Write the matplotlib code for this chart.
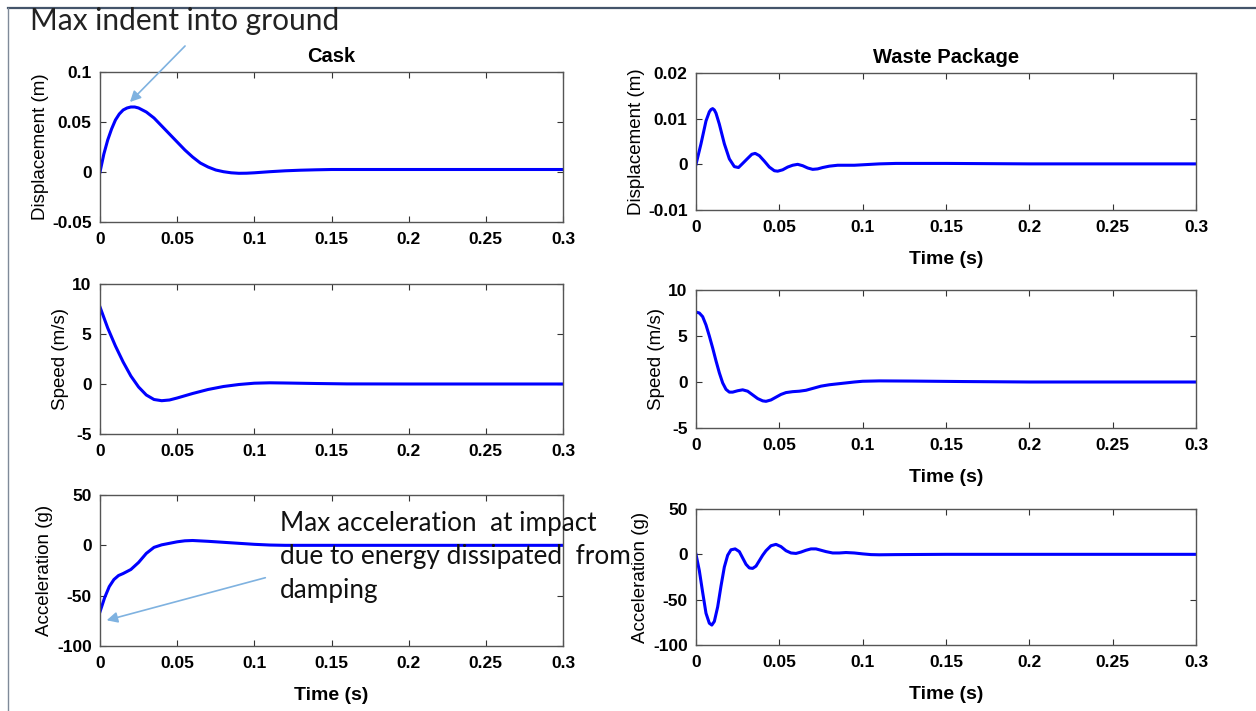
import matplotlib.pyplot as plt
from matplotlib.lines import Line2D

# time bases and values
cask_disp_t = [0, 0.0025, 0.005, 0.0075, 0.01, 0.0125, 0.015, 0.0175, 0.02, 0.0225, 0.025, 0.03,
               0.035, 0.04, 0.045, 0.05, 0.055, 0.06, 0.065, 0.07, 0.075, 0.08, 0.085, 0.09, 0.095,
               0.1, 0.11, 0.12, 0.13, 0.14, 0.15, 0.2, 0.25, 0.3]
cask_disp = [0, 0.018, 0.032, 0.043, 0.052, 0.058, 0.062, 0.064, 0.065, 0.065, 0.064, 0.060,
             0.054, 0.046, 0.038, 0.030, 0.022, 0.015, 0.009, 0.005, 0.002, 0.0003, -0.0008,
             -0.0013, -0.0012, -0.0008, 0.0003, 0.0012, 0.0018, 0.0022, 0.0025, 0.0025, 0.0025,
             0.0025]

cask_speed_t = [0, 0.005, 0.01, 0.015, 0.02, 0.025, 0.03, 0.035, 0.04, 0.045, 0.05, 0.06, 0.07,
                0.08, 0.09, 0.1, 0.11, 0.12, 0.14, 0.16, 0.2, 0.25, 0.3]
cask_speed = [7.7, 5.6, 3.8, 2.2, 0.8, -0.3, -1.1, -1.55, -1.67, -1.6, -1.4, -0.95, -0.55,
              -0.25, -0.05, 0.08, 0.12, 0.1, 0.05, 0.01, 0, 0, 0]

cask_acc_t = [0, 0.003, 0.006, 0.009, 0.012, 0.015, 0.02, 0.025, 0.03, 0.035, 0.04, 0.045, 0.05,
              0.055, 0.06, 0.07, 0.08, 0.09, 0.1, 0.11, 0.12, 0.15, 0.2, 0.3]
cask_acc = [-66, -52, -41, -34, -30, -28, -24, -17, -8, -2, 0.5, 2, 3.5,
            4.5, 4.8, 4, 3, 2, 1, 0.3, 0, 0, 0, 0]

wp_disp_t = [0, 0.003, 0.006, 0.008, 0.009, 0.010, 0.011, 0.012, 0.014, 0.017, 0.020, 0.023,
             0.0255, 0.028, 0.031, 0.0335, 0.0355, 0.038, 0.041, 0.044, 0.047, 0.049, 0.052,
             0.055, 0.058, 0.061, 0.064, 0.067, 0.070, 0.073, 0.076, 0.080, 0.085, 0.090, 0.095,
             0.10, 0.11, 0.12, 0.15, 0.2, 0.3]
wp_disp = [0, 0.0045, 0.0095, 0.0115, 0.0120, 0.0122, 0.0119, 0.0112, 0.0088, 0.0045, 0.0012,
           -0.0005, -0.0007, 0.0002, 0.0013, 0.0022, 0.0024, 0.0019, 0.0007, -0.0006, -0.0014,
           -0.0015, -0.0012, -0.0006, -0.0002, 0.0, -0.0003, -0.0008, -0.0011, -0.0010, -0.0007,
           -0.0004, -0.0002, -0.0002, -0.0002, -0.0001, 0.0001, 0.0002, 0.0002, 0.0001, 0.0001]

wp_speed_t = [0, 0.002, 0.004, 0.006, 0.008, 0.010, 0.012, 0.014, 0.016, 0.018, 0.020, 0.022,
              0.025, 0.028, 0.031, 0.034, 0.037, 0.040, 0.042, 0.045, 0.048, 0.051, 0.054, 0.058,
              0.062, 0.066, 0.070, 0.075, 0.080, 0.085, 0.090, 0.095, 0.10, 0.11, 0.13, 0.16,
              0.2, 0.3]
wp_speed = [7.6, 7.5, 7.1, 6.2, 5.0, 3.7, 2.3, 1.0, -0.1, -0.8, -1.1, -1.1, -0.95, -0.85, -1.0,
            -1.4, -1.8, -2.05, -2.1, -1.95, -1.65, -1.35, -1.15, -1.05, -1.0, -0.9, -0.7, -0.45,
            -0.3, -0.2, -0.1, 0.0, 0.08, 0.12, 0.1, 0.05, 0.0, 0.0]

wp_acc_t = [0, 0.002, 0.004, 0.006, 0.008, 0.0095, 0.011, 0.013, 0.015, 0.017, 0.019, 0.021,
            0.0235, 0.026, 0.028, 0.030, 0.032, 0.034, 0.036, 0.038, 0.040, 0.042, 0.045, 0.048,
            0.051, 0.054, 0.057, 0.060, 0.063, 0.066, 0.069, 0.072, 0.075, 0.078, 0.082, 0.086,
            0.090, 0.095, 0.10, 0.105, 0.11, 0.12, 0.15, 0.2, 0.3]
wp_acc = [0, -18, -42, -65, -76, -78, -74, -58, -35, -14, -1, 5, 6, 3, -4, -11, -15, -15.5, -13,
          -7, -1, 4, 9.5, 11, 8.5, 4, 1.5, 1, 2.5, 4.5, 6, 6, 4.5, 3, 1.5, 1.5, 2, 1.5, 0.5,
          -0.3, -0.5, -0.3, 0, 0, 0]

x_ticks = [0, 0.05, 0.1, 0.15, 0.2, 0.25, 0.3]
x_tick_labels = ["0", "0.05", "0.1", "0.15", "0.2", "0.25", "0.3"]

plt.rcParams["font.family"] = ["Liberation Sans", "DejaVu Sans"]

W, H = 1256, 711
fig = plt.figure(figsize=(W / 100, H / 100), dpi=100)


def px_axes(left, top, right, bottom):
    return fig.add_axes([left / W, 1 - bottom / H, (right - left) / W, (bottom - top) / H])


def style(ax, yticks, ylabel, xlabel=True):
    ax.set_xlim(0, 0.3)
    ax.set_ylim(yticks[0], yticks[-1])
    ax.set_xticks(x_ticks)
    ax.set_xticklabels(x_tick_labels, fontweight="bold", fontsize=12.5)
    ax.set_yticks(yticks)
    ax.set_yticklabels(["%g" % v for v in yticks], fontweight="bold", fontsize=12.5)
    ax.tick_params(axis="x", pad=7.5)
    ax.tick_params(axis="y", pad=6)
    ax.tick_params(direction="in", length=4, width=0.8, top=True, right=True,
                   colors="#333333", labelcolor="black")
    for sp in ax.spines.values():
        sp.set_color("#555555")
        sp.set_linewidth(1.0)
    ax.set_ylabel(ylabel, fontsize=13.5, labelpad=2.5)
    if xlabel:
        ax.set_xlabel("Time (s)", fontsize=14, fontweight="bold", labelpad=11.5)


panels = [
    ((100, 72, 563, 222), cask_disp_t, cask_disp, [-0.05, 0, 0.05, 0.1], "Displacement (m)", False, "Cask"),
    ((100, 284, 563, 434), cask_speed_t, cask_speed, [-5, 0, 5, 10], "Speed (m/s)", False, None),
    ((100, 495, 563, 646), cask_acc_t, cask_acc, [-100, -50, 0, 50], "Acceleration (g)", True, None),
    ((696, 73, 1196, 210), wp_disp_t, wp_disp, [-0.01, 0, 0.01, 0.02], "Displacement (m)", True, "Waste Package"),
    ((696, 290, 1196, 428), wp_speed_t, wp_speed, [-5, 0, 5, 10], "Speed (m/s)", True, None),
    ((696, 509, 1196, 645), wp_acc_t, wp_acc, [-100, -50, 0, 50], "Acceleration (g)", True, None),
]

for box, t, y, yt, ylab, has_x, title in panels:
    ax = px_axes(*box)
    ax.plot(t, y, color="#0000ff", lw=2.2)
    style(ax, yt, ylab, has_x)
    if title:
        ax.set_title(title, fontsize=14.5, fontweight="bold", pad=7)

# slide frame lines
fig.add_artist(Line2D([8 / W, 1.0], [1 - 8 / H, 1 - 8 / H], color="#44546a", lw=1.6))
fig.add_artist(Line2D([8 / W, 8 / W], [0, 1 - 8 / H], color="#7f8a99", lw=1.0))

# callouts
arrow_col = "#7fb2e0"
fig.text(30 / W, 1 - 30 / H, "Max indent into ground", fontsize=21.5, family=["Lato", "DejaVu Sans"],
         color="#222222", va="baseline")
fig.add_artist(plt.Annotation("", xy=(128 / W, 1 - 104 / H), xycoords="figure fraction",
                              xytext=(187 / W, 1 - 44 / H), textcoords="figure fraction",
                              arrowprops=dict(arrowstyle="-|>", color=arrow_col, lw=1.2,
                                              mutation_scale=16)))
fig.text(280 / W, 1 - 511 / H,
         "Max acceleration  at impact\ndue to energy dissipated  from\ndamping",
         fontsize=18.8, family=["Lato", "DejaVu Sans"], color="#111111", va="top", linespacing=1.42)
fig.add_artist(plt.Annotation("", xy=(104 / W, 1 - 621 / H), xycoords="figure fraction",
                              xytext=(268 / W, 1 - 577 / H), textcoords="figure fraction",
                              arrowprops=dict(arrowstyle="-|>", color=arrow_col, lw=1.2,
                                              mutation_scale=16)))

fig.savefig("out.png", dpi=100)
